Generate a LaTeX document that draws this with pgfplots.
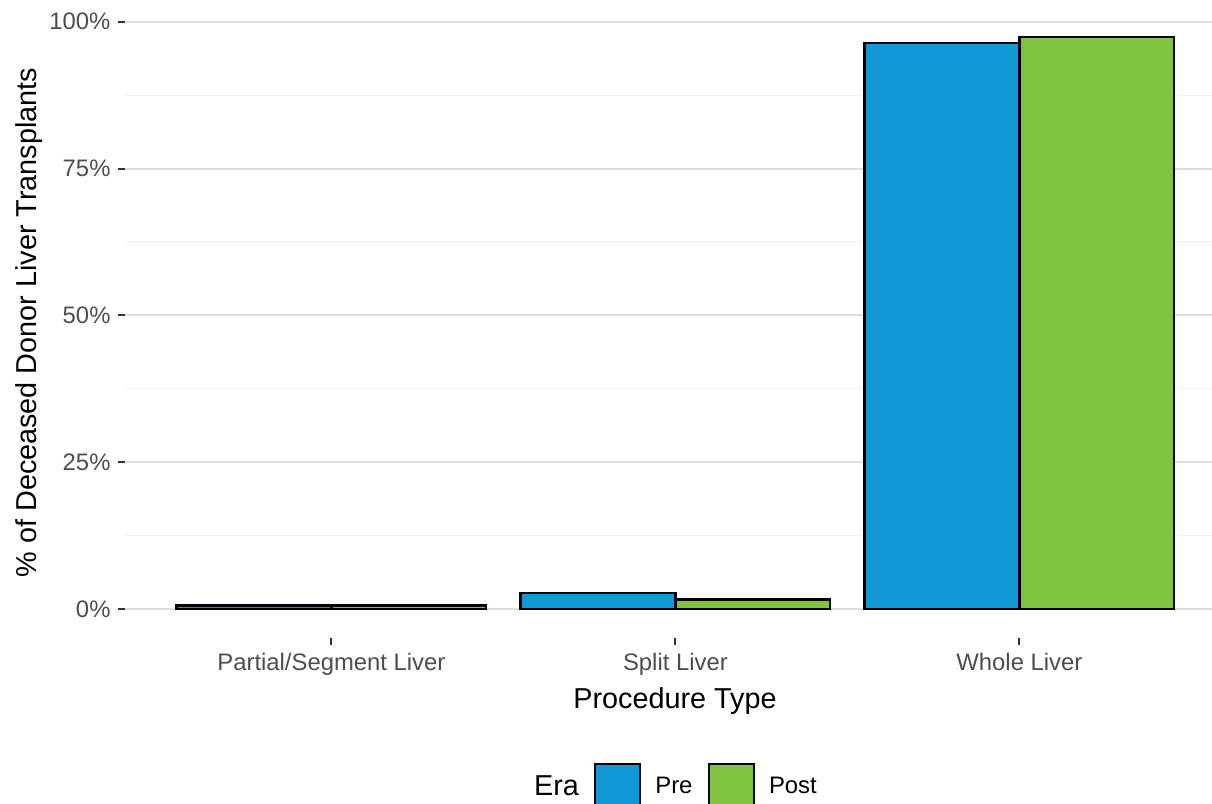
\documentclass[border=0pt]{standalone}
\usepackage{fontspec}
\setmainfont{Liberation Sans}
\usepackage{pgfplots}
\pgfplotsset{compat=1.18}
\definecolor{preblue}{HTML}{1199D6}
\definecolor{postgreen}{HTML}{80C342}
\definecolor{gridmaj}{HTML}{DEDEDE}
\definecolor{gridmin}{HTML}{F2F2F2}
\definecolor{ticktext}{HTML}{4D4D4D}
\definecolor{tickcol}{HTML}{333333}
\pgfplotsset{boxlegend/.style={legend image code/.code={\draw[##1] (0pt,-22.5pt) rectangle (45pt,22.5pt); \path (57pt,0pt);}}}
\begin{document}
\begin{tikzpicture}
\useasboundingbox (0,0) rectangle (1212pt,803pt);
\begin{axis}[
  at={(125pt,165.4pt)}, anchor=south west,
  scale only axis, width=1100.8pt, height=629.9pt,
  xmin=-0.6, xmax=2.6, ymin=-4.875, ymax=102.4,
  axis lines=left, axis line style={draw=none,-},
  tick align=outside, major tick length=7pt, minor tick length=0pt,
  tick style={color=tickcol, line width=2pt},
  xtick={0,1,2}, xticklabels={Partial/Segment Liver, Split Liver, Whole Liver},
  ytick={0,25,50,75,100}, yticklabels={0\%,25\%,50\%,75\%,100\%},
  minor ytick={12.5,37.5,62.5,87.5},
  ymajorgrids, yminorgrids,
  major grid style={color=gridmaj, line width=2pt},
  minor grid style={color=gridmin, line width=1pt},
  ticklabel style={font=\fontsize{23.85pt}{28pt}\selectfont, text=ticktext},
  xticklabel style={yshift=-5pt},
  yticklabel style={xshift=-4pt},
  legend style={draw=none, fill=none, at={(0.5,-0.2364)}, anchor=center,
    font=\fontsize{23.85pt}{28pt}\selectfont},
  legend columns=3,
  legend cell align=left,
  /tikz/every even column/.append style={column sep=13pt},
]
\addplot[ybar, bar width=0.45, bar shift=-0.225, fill=preblue, draw=black, line width=2.5pt, forget plot]
  coordinates {(0,0.55) (1,2.75) (2,96.35)};
\addplot[ybar, bar width=0.45, bar shift=0.225, fill=postgreen, draw=black, line width=2.5pt, forget plot]
  coordinates {(0,0.55) (1,1.6) (2,97.45)};
\addlegendimage{empty legend}
\addlegendentry[font=\fontsize{28.8pt}{32pt}\selectfont]{Era}
\addlegendimage{boxlegend, fill=preblue, draw=black, line width=2.5pt}
\addlegendentry{Pre}
\addlegendimage{boxlegend, fill=postgreen, draw=black, line width=2.5pt}
\addlegendentry{Post}
\end{axis}
\node[anchor=base, font=\fontsize{28.8pt}{32pt}\selectfont] at (675pt,95pt) {Procedure Type};
\node[anchor=base, rotate=90, font=\fontsize{28.8pt}{32pt}\selectfont] at (36pt,480.4pt) {\% of Deceased Donor Liver Transplants};
\end{tikzpicture}
\end{document}
